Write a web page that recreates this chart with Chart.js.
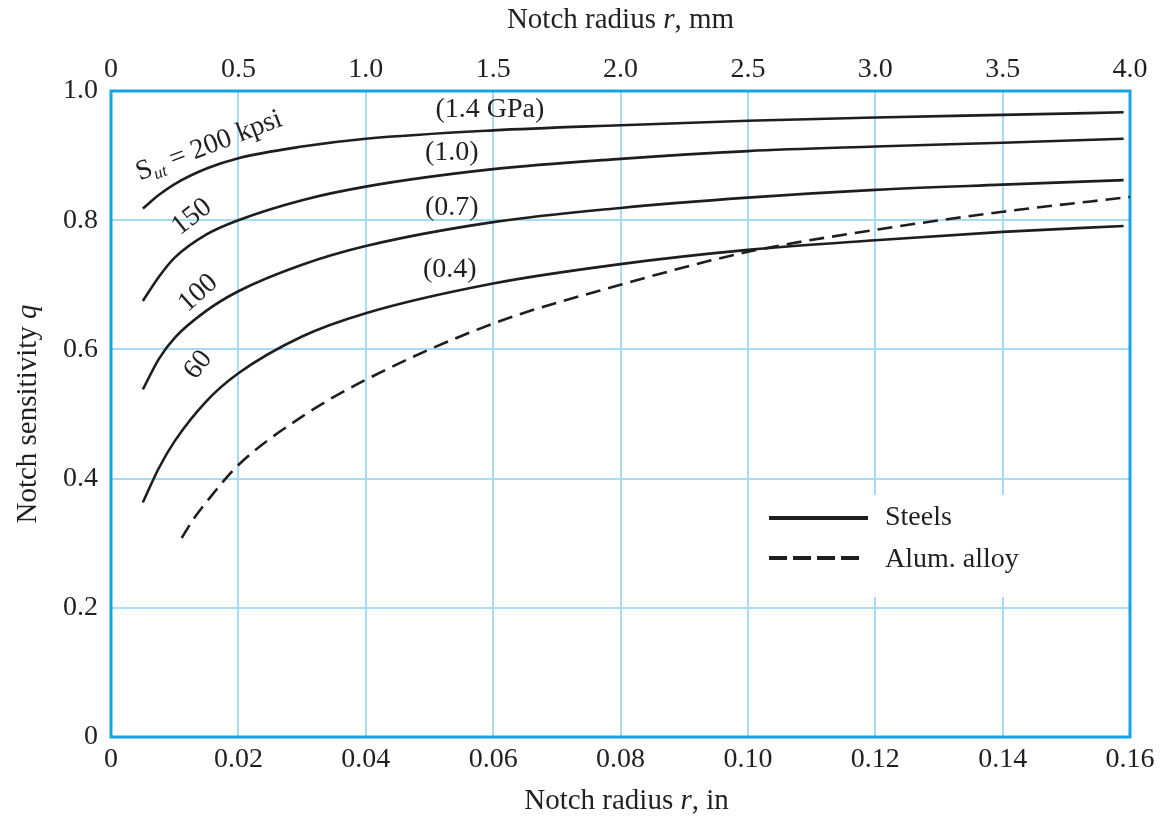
<!DOCTYPE html>
<html>
<head>
<meta charset="utf-8">
<title>Notch sensitivity</title>
<script src="https://cdn.jsdelivr.net/npm/chart.js@4.4.0/dist/chart.umd.min.js"></script>
<style>
    html, body { margin: 0; padding: 0; background: #fff; }
    #wrap { width: 1167px; height: 820px; }
</style>
</head>
<body>
<div id="wrap"><canvas id="chart"></canvas></div>
<script>
// notch radius r (in) - steel curves read at the same stations
const rSteel = [0.005, 0.0075, 0.01, 0.015, 0.02, 0.03, 0.04, 0.06, 0.08, 0.10, 0.12, 0.14, 0.159];
const q200 = [0.818, 0.839, 0.856, 0.880, 0.896, 0.914, 0.926, 0.939, 0.947, 0.954, 0.959, 0.963, 0.967];
const q150 = [0.675, 0.712, 0.742, 0.778, 0.800, 0.831, 0.852, 0.879, 0.895, 0.907, 0.914, 0.920, 0.926];
const q100 = [0.538, 0.585, 0.618, 0.660, 0.690, 0.731, 0.760, 0.797, 0.819, 0.835, 0.847, 0.855, 0.862];
const q60  = [0.363, 0.416, 0.458, 0.520, 0.563, 0.620, 0.656, 0.702, 0.732, 0.754, 0.769, 0.782, 0.791];

// aluminum alloy (dashed)
const rAlum = [0.0111, 0.013, 0.015, 0.02, 0.03, 0.04, 0.06, 0.08, 0.10, 0.12, 0.14, 0.16];
const qAlum = [0.308, 0.338, 0.364, 0.421, 0.496, 0.553, 0.640, 0.700, 0.751, 0.785, 0.813, 0.836];

// curve labels, anchored in data units
const curveLabels = ['200 kpsi', '150', '100', '60', '(1.4 GPa)', '(1.0)', '(0.7)', '(0.4)'];
const labelR = [0.0154, 0.0127, 0.0137, 0.0137, 0.0595, 0.0535, 0.0535, 0.0532];
const labelQ = [0.915, 0.805, 0.687, 0.576, 0.971, 0.904, 0.820, 0.723];
const labelAngle = [-21, -38, -42, -52, 0, 0, 0, 0];

const legendNames = ['Steels', 'Alum. alloy'];

const FONT = '"Liberation Serif", "Times New Roman", serif';
const INK = '#231f20';
const LINE = '#1e1e1e';
const GRID = '#a8dcf6';
const FRAME = '#18a4e4';
const FS = 28;

function font(size, italic) {
    return (italic ? 'italic ' : '') + size + 'px ' + FONT;
}

// draw a run of text pieces [text, italic, size, dy] centred on (0,0)
function drawRun(ctx, parts) {
    let total = 0;
    parts.forEach(p => {
        ctx.font = font(p[2], p[1]);
        p.w = ctx.measureText(p[0]).width;
        total += p.w;
    });
    let x = -total / 2;
    ctx.textAlign = 'left';
    ctx.textBaseline = 'middle';
    parts.forEach(p => {
        ctx.font = font(p[2], p[1]);
        ctx.fillText(p[0], x, p[3]);
        x += p.w;
    });
}

const decor = {
    id: 'decor',
    beforeDatasetsDraw(chart) {
        const ctx = chart.ctx;
        const a = chart.chartArea;
        ctx.save();
        // legend box
        const bx = a.right - 376, by = a.top + 404;
        ctx.fillStyle = '#fff';
        ctx.fillRect(bx, by, 374, 102);
        ctx.strokeStyle = LINE;
        ctx.lineWidth = 4;
        ctx.beginPath();
        ctx.moveTo(bx + 15, by + 23);
        ctx.lineTo(bx + 114, by + 23);
        ctx.stroke();
        ctx.setLineDash([18, 6]);
        ctx.beginPath();
        ctx.moveTo(bx + 15, by + 63);
        ctx.lineTo(bx + 110, by + 63);
        ctx.stroke();
        ctx.setLineDash([]);
        ctx.fillStyle = INK;
        ctx.font = font(FS, false);
        ctx.textAlign = 'left';
        ctx.textBaseline = 'middle';
        ctx.fillText(legendNames[0], bx + 131, by + 23);
        ctx.fillText(legendNames[1], bx + 131, by + 65);
        // frame
        ctx.strokeStyle = FRAME;
        ctx.lineWidth = 3;
        ctx.strokeRect(a.left, a.top, a.right - a.left, a.bottom - a.top);
        ctx.restore();
    },
    afterDraw(chart) {
        const ctx = chart.ctx;
        const a = chart.chartArea;
        const xs = chart.scales.x, ys = chart.scales.y;
        const cx = (a.left + a.right) / 2;
        ctx.save();
        ctx.fillStyle = INK;

        // axis titles
        ctx.save();
        ctx.translate(cx, a.top - 71);
        drawRun(ctx, [['Notch radius ', false, 29, 0], ['r', true, 29, 0], [', mm', false, 29, 0]]);
        ctx.restore();
        ctx.save();
        ctx.translate(cx + 6, a.bottom + 64);
        drawRun(ctx, [['Notch radius ', false, 29, 0], ['r', true, 29, 0], [', in', false, 29, 0]]);
        ctx.restore();
        ctx.save();
        ctx.translate(a.left - 83, (a.top + a.bottom) / 2);
        ctx.rotate(-Math.PI / 2);
        drawRun(ctx, [['Notch sensitivity ', false, 29, 0], ['q', true, 29, 0]]);
        ctx.restore();

        // curve labels
        curveLabels.forEach((t, i) => {
            ctx.save();
            ctx.translate(xs.getPixelForValue(labelR[i]), ys.getPixelForValue(labelQ[i]));
            ctx.rotate(labelAngle[i] * Math.PI / 180);
            if (i === 0) {
                drawRun(ctx, [['S', false, FS, 0], ['ut', true, 17, 8], [' = ' + t, false, FS, 0]]);
            } else {
                drawRun(ctx, [[t, false, FS, 0]]);
            }
            ctx.restore();
        });
        ctx.restore();
    }
};

function pts(xs, ys) {
    return xs.map((x, i) => ({ x: x, y: ys[i] }));
}

const steelStyle = {
    borderColor: LINE,
    borderWidth: 2.6,
    pointRadius: 0,
    fill: false,
    cubicInterpolationMode: 'monotone'
};

const tickFont = { family: FONT, size: FS };

new Chart(document.getElementById('chart').getContext('2d'), {
    type: 'line',
    data: {
        datasets: [
            Object.assign({ label: 'Steels 200 kpsi', data: pts(rSteel, q200) }, steelStyle),
            Object.assign({ label: 'Steels 150 kpsi', data: pts(rSteel, q150) }, steelStyle),
            Object.assign({ label: 'Steels 100 kpsi', data: pts(rSteel, q100) }, steelStyle),
            Object.assign({ label: 'Steels 60 kpsi', data: pts(rSteel, q60) }, steelStyle),
            Object.assign({ label: 'Alum. alloy', data: pts(rAlum, qAlum), borderDash: [15, 8] }, steelStyle)
        ]
    },
    options: {
        responsive: true,
        maintainAspectRatio: false,
        animation: false,
        layout: { padding: { left: 0, right: 37, top: 0, bottom: 0 } },
        plugins: { legend: { display: false }, tooltip: { enabled: false } },
        scales: {
            x: {
                type: 'linear', position: 'bottom', min: 0, max: 0.16,
                ticks: {
                    stepSize: 0.02, padding: 6, color: INK, font: tickFont,
                    maxRotation: 0, autoSkip: false,
                    callback: v => Math.abs(v) < 1e-9 ? '0' : v.toFixed(2)
                },
                grid: { color: GRID, lineWidth: 2, drawTicks: false },
                border: { display: false },
                afterFit: s => { s.height = 83; }
            },
            x2: {
                type: 'linear', position: 'top', min: 0, max: 4,
                ticks: {
                    stepSize: 0.5, padding: 5, color: INK, font: tickFont,
                    maxRotation: 0, autoSkip: false,
                    callback: v => v === 0 ? '0' : v.toFixed(1)
                },
                grid: { display: false, drawTicks: false },
                border: { display: false },
                afterFit: s => { s.height = 91; }
            },
            y: {
                min: 0, max: 1,
                ticks: {
                    stepSize: 0.2, padding: 13, color: INK, font: tickFont,
                    callback: v => Math.abs(v) < 1e-9 ? '0' : v.toFixed(1)
                },
                grid: { color: GRID, lineWidth: 2, drawTicks: false },
                border: { display: false },
                afterFit: s => { s.width = 111; }
            }
        }
    },
    plugins: [decor]
});
</script>
</body>
</html>
